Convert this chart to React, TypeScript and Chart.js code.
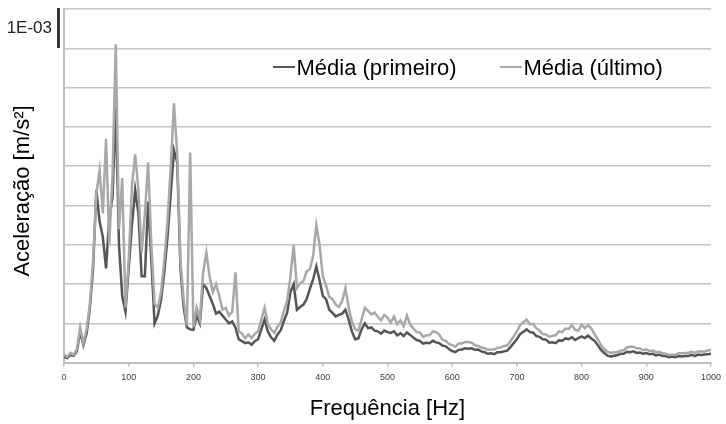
import React, { useEffect, useRef } from "react";
import { Chart, registerables } from "chart.js";

Chart.register(...registerables);

// Frequency grid (Hz)
const freqHz = [
  0, 5, 10, 15, 20, 25, 30, 35, 40, 45, 50, 55, 60, 65, 70, 75, 80, 85, 90, 95,
  100, 105, 110, 115, 120, 125, 130, 135, 140, 145, 150, 155, 160, 165, 170, 175, 180, 185, 190, 195,
  200, 205, 210, 215, 220, 225, 230, 235, 240, 245, 250, 255, 260, 265, 270, 275, 280, 285, 290, 295,
  300, 305, 310, 315, 320, 325, 330, 335, 340, 345, 350, 355, 360, 365, 370, 375, 380, 385, 390, 395,
  400, 405, 410, 415, 420, 425, 430, 435, 440, 445, 450, 455, 460, 465, 470, 475, 480, 485, 490, 495,
  500, 505, 510, 515, 520, 525, 530, 535, 540, 545, 550, 555, 560, 565, 570, 575, 580, 585, 590, 595,
  600, 605, 610, 615, 620, 625, 630, 635, 640, 645, 650, 655, 660, 665, 670, 675, 680, 685, 690, 695,
  700, 705, 710, 715, 720, 725, 730, 735, 740, 745, 750, 755, 760, 765, 770, 775, 780, 785, 790, 795,
  800, 805, 810, 815, 820, 825, 830, 835, 840, 845, 850, 855, 860, 865, 870, 875, 880, 885, 890, 895,
  900, 905, 910, 915, 920, 925, 930, 935, 940, 945, 950, 955, 960, 965, 970, 975, 980, 985, 990, 995,
  1000,
];

// Mean acceleration spectra, in vertical grid divisions (top of axis = 9 divisions)
const mediaPrimeiro = [
  0.15, 0.12, 0.2, 0.18, 0.3, 0.8, 0.45, 0.75, 1.4, 2.4, 4.4, 3.6, 3.2, 2.4, 3.7, 4.2, 6.5, 3.0, 1.7, 1.3,
  2.4, 3.5, 4.4, 3.8, 2.2, 2.2, 4.1, 2.6, 1.0, 1.2, 1.6, 2.3, 3.2, 4.3, 5.4, 5.1, 2.4, 1.4, 0.9, 0.85,
  0.84, 1.2, 1.0, 2.0, 1.9, 1.7, 1.5, 1.25, 1.3, 1.2, 1.1, 1.0, 1.05, 0.9, 0.6, 0.55, 0.5, 0.52, 0.46, 0.55,
  0.6, 0.85, 1.1, 0.8, 0.65, 0.56, 0.72, 0.83, 1.07, 1.28, 1.8, 2.0, 1.35, 1.42, 1.48, 1.62, 1.88, 2.12, 2.45, 2.1,
  1.7, 1.62, 1.35, 1.27, 1.18, 1.22, 1.25, 1.35, 1.1, 0.8, 0.6, 0.62, 0.85, 1.0, 0.88, 0.9, 0.82, 0.8, 0.74, 0.82,
  0.78, 0.76, 0.8, 0.7, 0.75, 0.68, 0.77, 0.71, 0.64, 0.58, 0.56, 0.49, 0.51, 0.5, 0.56, 0.52, 0.5, 0.44, 0.42, 0.35,
  0.3, 0.27, 0.33, 0.34, 0.37, 0.36, 0.37, 0.33, 0.34, 0.29, 0.27, 0.23, 0.24, 0.22, 0.27, 0.27, 0.29, 0.31, 0.4, 0.5,
  0.6, 0.73, 0.79, 0.85, 0.78, 0.77, 0.68, 0.66, 0.6, 0.59, 0.51, 0.52, 0.5, 0.57, 0.56, 0.62, 0.6, 0.65, 0.58, 0.63,
  0.67, 0.63, 0.69, 0.62, 0.56, 0.45, 0.33, 0.25, 0.18, 0.16, 0.18, 0.19, 0.23, 0.23, 0.28, 0.27, 0.29, 0.25, 0.26, 0.23,
  0.25, 0.22, 0.23, 0.19, 0.21, 0.17, 0.17, 0.14, 0.16, 0.14, 0.17, 0.16, 0.17, 0.17, 0.2, 0.17, 0.21, 0.2, 0.21, 0.22,
  0.23,
];

const mediaUltimo = [
  0.2, 0.15, 0.25, 0.2, 0.35, 0.9, 0.5, 0.85, 1.5, 2.6, 4.3, 4.9, 3.8, 5.7, 3.0, 4.8, 8.1, 3.4, 4.7, 1.4,
  2.6, 4.5, 5.3, 4.4, 2.8, 3.8, 5.1, 3.0, 1.5, 1.4, 1.8, 2.6, 3.6, 5.0, 6.6, 5.3, 2.6, 1.6, 0.95, 5.35,
  0.9, 1.4, 1.1, 2.3, 2.8, 2.2, 1.8, 2.0, 1.7, 1.35, 1.4, 1.2, 1.3, 2.3, 0.8, 0.75, 0.62, 0.72, 0.63, 0.74,
  0.8, 1.1, 1.4, 1.0, 0.85, 0.76, 0.92, 1.03, 1.32, 1.58, 2.2, 3.0, 1.9, 2.02, 2.08, 2.32, 2.38, 2.72, 3.5, 3.0,
  2.2, 1.97, 1.68, 1.62, 1.48, 1.42, 1.58, 1.9, 1.4, 1.05, 0.85, 0.82, 1.1, 1.4, 1.32, 1.23, 1.28, 1.17, 1.08, 1.22,
  1.15, 1.02, 1.18, 0.98, 1.08, 0.93, 1.2, 0.98, 0.87, 0.78, 0.77, 0.66, 0.7, 0.7, 0.8, 0.78, 0.72, 0.58, 0.56, 0.48,
  0.45, 0.41, 0.49, 0.49, 0.53, 0.53, 0.51, 0.45, 0.43, 0.39, 0.37, 0.33, 0.34, 0.34, 0.38, 0.39, 0.43, 0.44, 0.55, 0.67,
  0.8, 0.96, 1.03, 1.1, 0.98, 0.99, 0.88, 0.82, 0.73, 0.72, 0.66, 0.69, 0.7, 0.8, 0.78, 0.87, 0.86, 0.96, 0.84, 0.82,
  0.97, 0.88, 0.96, 0.87, 0.73, 0.6, 0.45, 0.35, 0.28, 0.25, 0.27, 0.27, 0.31, 0.32, 0.39, 0.41, 0.41, 0.37, 0.37, 0.32,
  0.34, 0.3, 0.31, 0.27, 0.28, 0.24, 0.23, 0.2, 0.21, 0.2, 0.24, 0.24, 0.25, 0.25, 0.28, 0.25, 0.29, 0.29, 0.29, 0.31,
  0.33,
];

const xTickLabels = ["0", "100", "200", "300", "400", "500", "600", "700", "800", "900", "1000"];
const seriesNames = ["Média (primeiro)", "Média (último)"];
const seriesColors = ["#555555", "#a8a8a8"];
const yTopLabel = "1E-03";
const xTitle = "Frequência [Hz]";
const yTitle = "Aceleração [m/s²]";

const FONT = "'Liberation Sans', Arial, sans-serif";

const annotations = {
  id: "annotations",
  afterDraw(chart: any) {
    const { ctx, chartArea } = chart;
    ctx.save();

    // y-axis title
    ctx.fillStyle = "#000";
    ctx.font = `22px ${FONT}`;
    ctx.textAlign = "center";
    ctx.textBaseline = "middle";
    ctx.translate(23, 191);
    ctx.rotate(-Math.PI / 2);
    ctx.fillText(yTitle, 0, 0);
    ctx.setTransform(1, 0, 0, 1, 0, 0);

    // top magnitude label with its marker bar
    ctx.fillStyle = "#222";
    ctx.font = `17px ${FONT}`;
    ctx.textAlign = "right";
    ctx.textBaseline = "middle";
    ctx.fillText(yTopLabel, 52, 28);
    ctx.fillStyle = "#333";
    ctx.fillRect(chartArea.left - 7, chartArea.top - 1, 3, 40);

    // legend
    ctx.font = `22px ${FONT}`;
    ctx.textAlign = "left";
    ctx.textBaseline = "alphabetic";
    const entries = [
      { x: 273, text: seriesNames[0], color: seriesColors[0] },
      { x: 500, text: seriesNames[1], color: seriesColors[1] },
    ];
    for (const e of entries) {
      ctx.strokeStyle = e.color;
      ctx.lineWidth = 2;
      ctx.beginPath();
      ctx.moveTo(e.x, 67);
      ctx.lineTo(e.x + 22, 67);
      ctx.stroke();
      ctx.fillStyle = "#000";
      ctx.fillText(e.text, e.x + 23.5, 75);
    }
    ctx.restore();
  },
};

export default function App() {
  const canvasRef = useRef<HTMLCanvasElement>(null);

  useEffect(() => {
    if (!canvasRef.current) return;
    const toPoints = (vals: number[]) => vals.map((v, i) => ({ x: freqHz[i], y: v }));
    const chart = new Chart(canvasRef.current, {
      type: "line",
      data: {
        datasets: [
          {
            label: seriesNames[0],
            data: toPoints(mediaPrimeiro),
            borderColor: seriesColors[0],
            borderWidth: 2.5,
            pointRadius: 0,
            tension: 0,
            order: 1,
          },
          {
            label: seriesNames[1],
            data: toPoints(mediaUltimo),
            borderColor: seriesColors[1],
            borderWidth: 2.5,
            pointRadius: 0,
            tension: 0,
            order: 0,
          },
        ],
      },
      options: {
        animation: false,
        responsive: false,
        maintainAspectRatio: false,
        layout: { padding: { left: 64, top: 9, right: 13, bottom: 2 } },
        plugins: { legend: { display: false }, tooltip: { enabled: false } },
        scales: {
          x: {
            type: "linear",
            min: 0,
            max: 1000,
            afterBuildTicks: (scale: any) => {
              scale.ticks = xTickLabels.map((t) => ({ value: Number(t) }));
            },
            ticks: {
              font: { family: FONT, size: 9 },
              color: "#404040",
              padding: 5,
              maxRotation: 0,
              autoSkip: false,
              callback: (v: any) => String(v),
            },
            grid: { drawOnChartArea: false, drawTicks: true, tickLength: 4, color: "#bdbdbd", lineWidth: 1.5 },
            border: { color: "#bdbdbd", width: 2 },
            title: {
              display: true,
              text: xTitle,
              font: { family: FONT, size: 22 },
              color: "#000",
              padding: { top: 8, bottom: 0 },
            },
          },
          y: {
            min: 0,
            max: 9,
            ticks: { display: false, stepSize: 1 },
            grid: { drawTicks: false, color: "#c4c4c4", lineWidth: 1.5 },
            border: { color: "#bdbdbd", width: 2 },
          },
        },
      },
      plugins: [annotations],
    });
    return () => chart.destroy();
  }, []);

  return (
    <div style={{ position: "fixed", left: 0, top: 0, width: 726, height: 424, background: "#fff" }}>
      <canvas ref={canvasRef} width={726} height={424} style={{ display: "block" }} />
    </div>
  );
}
